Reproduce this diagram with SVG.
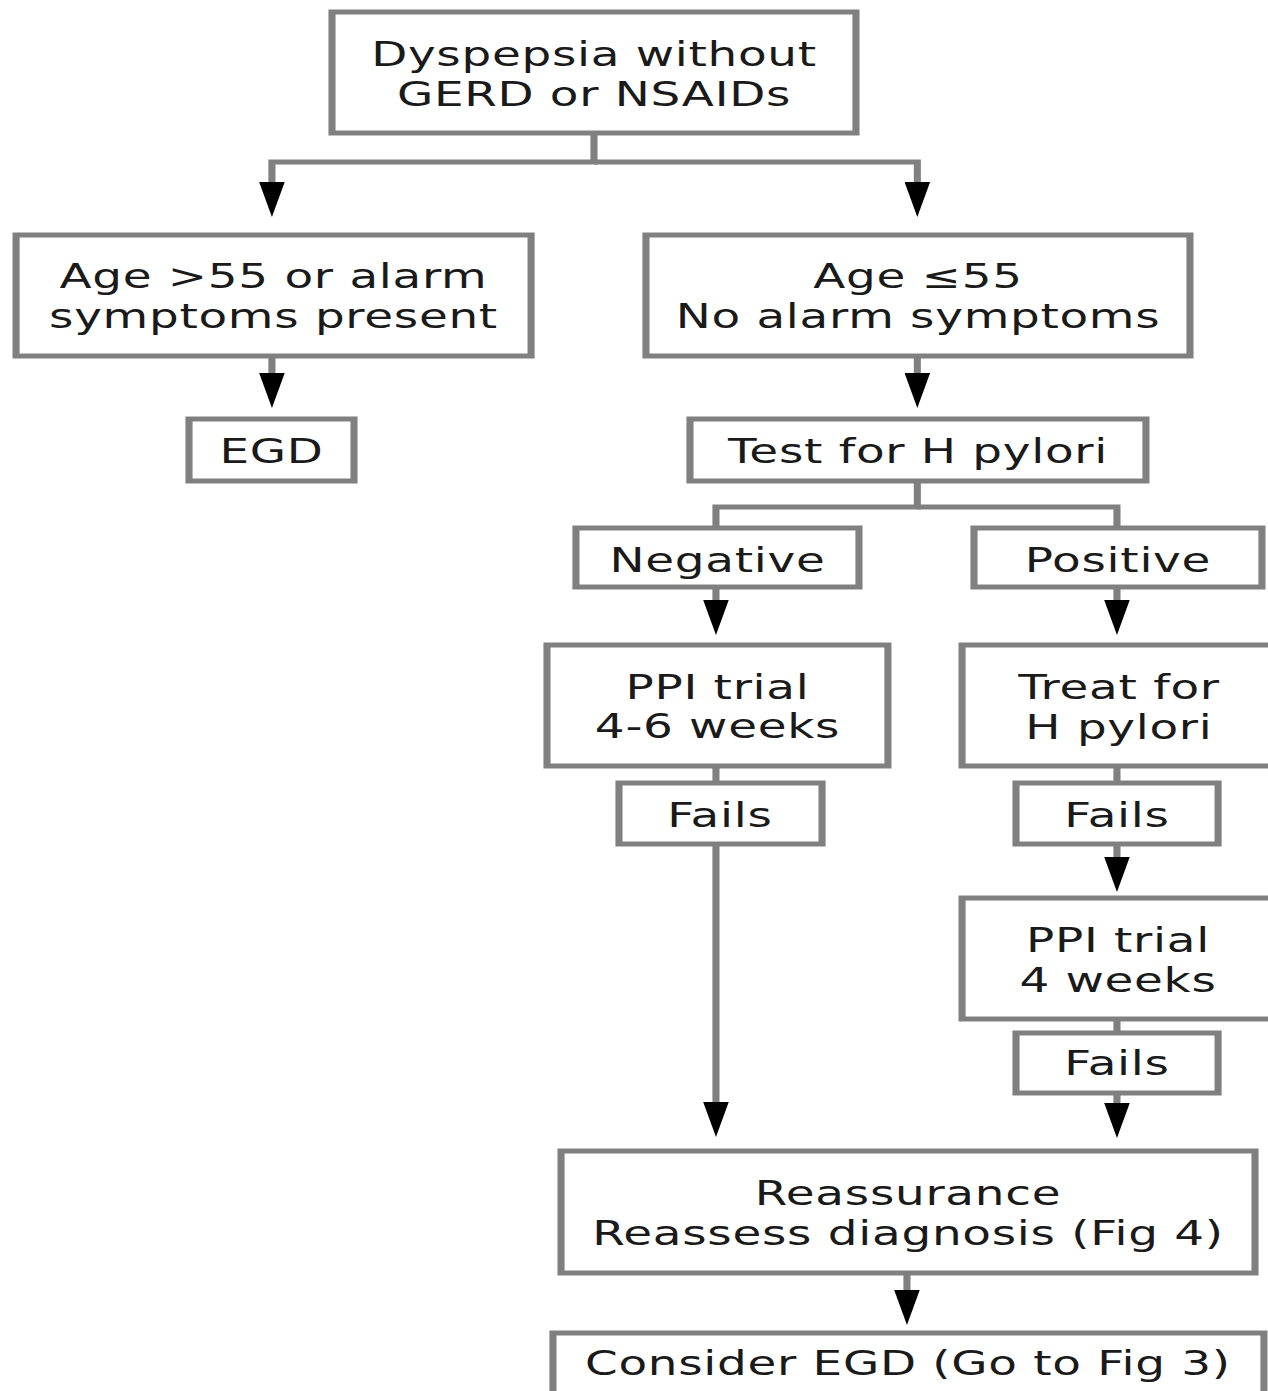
<svg xmlns="http://www.w3.org/2000/svg" width="1268" height="1391" viewBox="0 0 1268 1391">
<defs>
<style>
.box{fill:#fff;stroke:#808080;stroke-width:5}
.t{font-family:"DejaVu Sans",Verdana,sans-serif;font-size:33px;fill:#1a1a1a;text-anchor:middle;letter-spacing:0.5px}
.c{fill:none;stroke:#808080;stroke-width:5}
.a{marker-end:url(#ah)}
</style>
<marker id="ah" markerUnits="userSpaceOnUse" viewBox="0 -9 35 18" refX="0" refY="0" markerWidth="35" markerHeight="18" orient="auto">
<path d="M0,-9 L35,0 L0,9 Z" fill="#000"/>
</marker>
</defs>
<rect width="1268" height="1391" fill="#fff"/>
<g transform="scale(1.42,1)">
<g id="connectors">
<path class="c a" d="M418.3,133 V162 H191.5 V182"/>
<path class="c a" d="M418.3,162 H646 V182"/>
<path class="c a" d="M191.5,356 V373"/>
<path class="c a" d="M646,356 V373"/>
<path class="c" d="M646,481 V507 H504.2 V528"/>
<path class="c" d="M646,507 H786.6 V528"/>
<path class="c a" d="M504.2,587 V600"/>
<path class="c a" d="M786.6,587 V600"/>
<path class="c" d="M504.2,766 V783"/>
<path class="c a" d="M504.2,844 V1102"/>
<path class="c" d="M786.6,766 V783"/>
<path class="c a" d="M786.6,844 V857"/>
<path class="c" d="M786.6,1019 V1033"/>
<path class="c a" d="M786.6,1093 V1103"/>
<path class="c a" d="M638.7,1273 V1290"/>
</g>
<g id="n1"><rect class="box" x="233.8" y="12" width="369" height="121"/>
<text class="t" x="418.3" y="66">Dyspepsia without</text><text class="t" x="418.3" y="106">GERD or NSAIDs</text></g>
<g id="n2"><rect class="box" x="11.3" y="235" width="362.7" height="121"/>
<text class="t" x="192.6" y="288">Age &gt;55 or alarm</text><text class="t" x="192.6" y="328">symptoms present</text></g>
<g id="n3"><rect class="box" x="133.1" y="419" width="116.2" height="62"/>
<text class="t" x="191.2" y="463">EGD</text></g>
<g id="n4"><rect class="box" x="454.9" y="235" width="383.1" height="121"/>
<text class="t" x="646.5" y="288">Age ≤55</text><text class="t" x="646.5" y="328">No alarm symptoms</text></g>
<g id="n5"><rect class="box" x="485.9" y="419" width="321.1" height="62"/>
<text class="t" x="646.5" y="463">Test for H pylori</text></g>
<g id="n6"><rect class="box" x="405.6" y="528" width="199.3" height="59"/>
<text class="t" x="505.3" y="572">Negative</text></g>
<g id="n7"><rect class="box" x="685.9" y="528" width="202.8" height="59"/>
<text class="t" x="787.3" y="572">Positive</text></g>
<g id="n8"><rect class="box" x="385.2" y="645" width="240.1" height="121"/>
<text class="t" x="505.3" y="699">PPI trial</text><text class="t" x="505.3" y="738">4-6 weeks</text></g>
<g id="n9"><rect class="box" x="677.5" y="645" width="220.4" height="121"/>
<text class="t" x="788" y="699">Treat for</text><text class="t" x="788" y="739">H pylori</text></g>
<g id="n10"><rect class="box" x="435.9" y="783" width="143" height="61"/>
<text class="t" x="507" y="827">Fails</text></g>
<g id="n11"><rect class="box" x="715.5" y="783" width="142.3" height="61"/>
<text class="t" x="786.6" y="827">Fails</text></g>
<g id="n12"><rect class="box" x="677.5" y="898" width="220.4" height="121"/>
<text class="t" x="787.3" y="952">PPI trial</text><text class="t" x="787.3" y="992">4 weeks</text></g>
<g id="n13"><rect class="box" x="715.5" y="1033" width="142.3" height="60"/>
<text class="t" x="786.6" y="1075">Fails</text></g>
<g id="n14"><rect class="box" x="395.1" y="1151" width="488.7" height="122"/>
<text class="t" x="639.4" y="1205">Reassurance</text><text class="t" x="639.4" y="1245">Reassess diagnosis (Fig 4)</text></g>
<g id="n15"><rect class="box" x="389.4" y="1333" width="500.7" height="70"/>
<text class="t" x="639.4" y="1375">Consider EGD (Go to Fig 3)</text></g>
</g>
</svg>
